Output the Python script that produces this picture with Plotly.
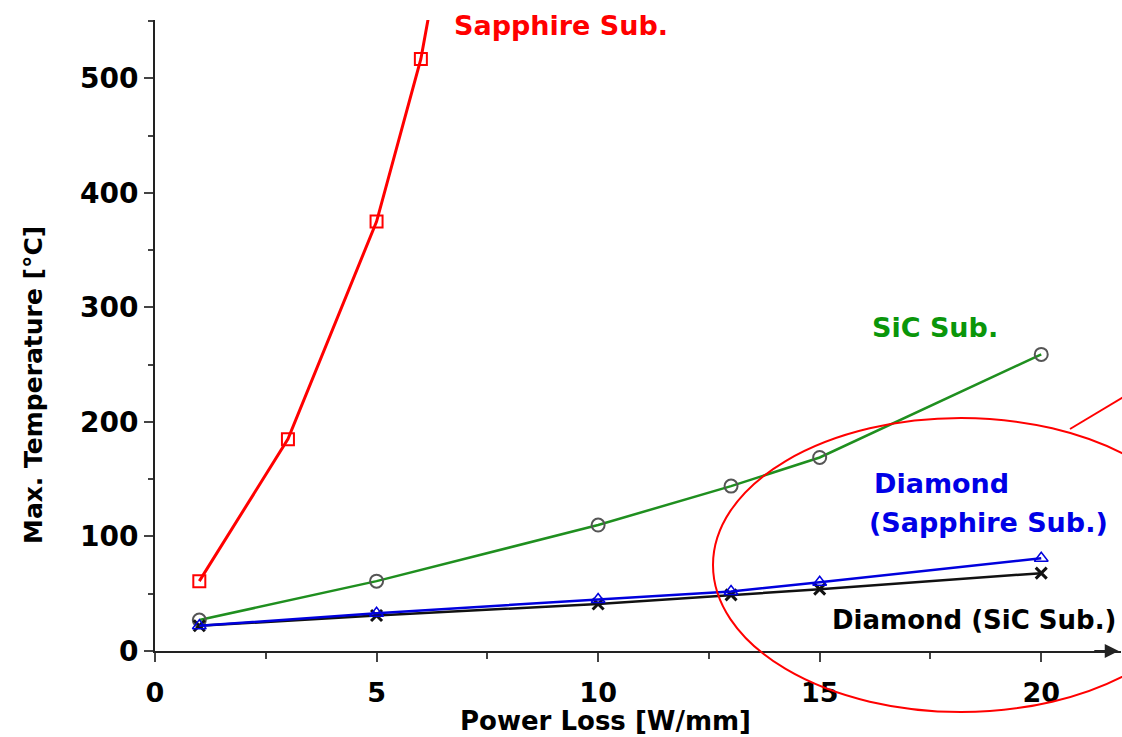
import plotly.graph_objects as go

# ---- data ----
x_sapphire = [1, 3, 5, 6, 7]
y_sapphire = [61, 185, 375, 517, 730]

x_sic = [1, 5, 10, 13, 15, 20]
y_sic = [27, 61, 110, 144, 169, 259]

x_dia_sapph = [1, 5, 10, 13, 15, 20]
y_dia_sapph = [22, 33, 45, 52, 60, 81]

x_dia_sic = [1, 5, 10, 13, 15, 20]
y_dia_sic = [22, 31, 41, 49, 54, 68]

x_ticks = [0, 5, 10, 15, 20]
y_ticks = [0, 100, 200, 300, 400, 500]

FONT = "DejaVu Sans"

fig = go.Figure()

fig.add_trace(go.Scatter(
    x=x_sic, y=y_sic, mode="lines+markers", name="SiC Sub.",
    line=dict(color="#1f8f1f", width=2.5),
    marker=dict(symbol="circle-open", size=13, color="#555555",
                line=dict(width=2, color=["#555555"] * 5 + ["#1f8f1f"])),
))
fig.add_trace(go.Scatter(
    x=x_dia_sic, y=y_dia_sic, mode="lines+markers", name="Diamond (SiC Sub.)",
    line=dict(color="#111111", width=2.5),
    marker=dict(symbol="x-thin-open", size=11, color="#111111",
                line=dict(width=3, color="#111111")),
))
fig.add_trace(go.Scatter(
    x=x_dia_sapph, y=y_dia_sapph, mode="lines+markers", name="Diamond (Sapphire Sub.)",
    line=dict(color="#0000dd", width=2.5),
    marker=dict(symbol="triangle-up-open", size=12, color="#0000dd",
                line=dict(width=1.5, color="#0000dd")),
))
fig.add_trace(go.Scatter(
    x=x_sapphire, y=y_sapphire, mode="lines+markers", name="Sapphire Sub.",
    line=dict(color="#ff0000", width=3),
    marker=dict(symbol="square-open", size=12, color="#ff0000",
                line=dict(width=2, color="#ff0000")),
))

W, H = 1122, 737
PL, PR, PT, PB = 155, 1121, 20, 651          # plot area in reference pixels
L, T = PL, PT
R = W - PR
B = H - PB
pw, ph = PR - PL, PB - PT


def px(xp):
    return (xp - PL) / pw


def py(yp):
    return (PB - yp) / ph


fig.update_layout(
    width=W, height=H,
    margin=dict(l=L, r=R, t=T, b=B, autoexpand=False),
    paper_bgcolor="white", plot_bgcolor="white",
    showlegend=False,
    xaxis=dict(
        range=[0, 21.8], showgrid=False, zeroline=False,
        showline=True, linecolor="#222222", linewidth=2,
        tickvals=x_ticks, ticks="outside", ticklen=9, tickwidth=2, tickcolor="#444444",
        minor=dict(dtick=2.5, ticks="outside", ticklen=6, tickwidth=2, tickcolor="#444444"),
        tickfont=dict(family=FONT, size=27, color="black", weight="bold"),
        ticklabelstandoff=8,
    ),
    yaxis=dict(
        range=[0, 551], showgrid=False, zeroline=False,
        showline=True, linecolor="#222222", linewidth=2,
        tickvals=y_ticks, ticks="outside", ticklen=9, tickwidth=2, tickcolor="#444444",
        minor=dict(dtick=50, ticks="outside", ticklen=5, tickwidth=2, tickcolor="#444444"),
        tickfont=dict(family=FONT, size=28, color="black", weight="bold"),
        ticklabelstandoff=0,
    ),
)

ann = []
# axis titles
ann.append(dict(text="Power Loss [W/mm]", xref="paper", yref="paper",
                x=px(605), y=py(721), xanchor="center", yanchor="middle",
                showarrow=False, font=dict(family=FONT, size=26, color="black", weight="bold")))
ann.append(dict(text="Max. Temperature [°C]", xref="paper", yref="paper",
                x=px(33), y=py(385), xanchor="center", yanchor="middle", textangle=-90,
                showarrow=False, font=dict(family=FONT, size=25, color="black", weight="bold")))
# series labels
ann.append(dict(text="Sapphire Sub.", xref="paper", yref="paper",
                x=px(452), y=py(25), xanchor="left", yanchor="middle",
                showarrow=False, font=dict(family=FONT, size=27, color="#ff0000", weight="bold")))
ann.append(dict(text="SiC Sub.", xref="paper", yref="paper",
                x=px(870), y=py(327), xanchor="left", yanchor="middle",
                showarrow=False, font=dict(family=FONT, size=27, color="#0a960a", weight="bold")))
ann.append(dict(text="Diamond", xref="paper", yref="paper",
                x=px(872), y=py(483), xanchor="left", yanchor="middle",
                showarrow=False, font=dict(family=FONT, size=27, color="#0000e6", weight="bold")))
ann.append(dict(text="(Sapphire Sub.)", xref="paper", yref="paper",
                x=px(867), y=py(522), xanchor="left", yanchor="middle",
                showarrow=False, font=dict(family=FONT, size=27, color="#0000e6", weight="bold")))
ann.append(dict(text="Diamond (SiC Sub.)", xref="paper", yref="paper",
                x=px(830), y=py(620), xanchor="left", yanchor="middle",
                showarrow=False, font=dict(family=FONT, size=26, color="black", weight="bold")))
# x-axis arrow head
ann.append(dict(text="", xref="x", yref="y", x=21.75, y=0, ax=-26, ay=0,
                showarrow=True, arrowhead=2, arrowsize=1.4, arrowwidth=2,
                arrowcolor="#222222"))
fig.update_layout(annotations=ann)

# red ellipse highlight and pointer line
fig.add_shape(type="circle", xref="paper", yref="paper",
              x0=px(713), x1=px(1209), y0=py(418), y1=py(712),
              line=dict(color="#ff0000", width=2), fillcolor="rgba(0,0,0,0)")
fig.add_shape(type="line", xref="paper", yref="paper",
              x0=px(1070), y0=py(429), x1=px(1135), y1=py(390),
              line=dict(color="#ff0000", width=2))

# remove the browser's default 8px page margin so the figure fills the window
fig.write_html("out.html",
               config={"displayModeBar": False},
               post_script="document.body.style.margin='0px';document.body.style.overflow='hidden';")
